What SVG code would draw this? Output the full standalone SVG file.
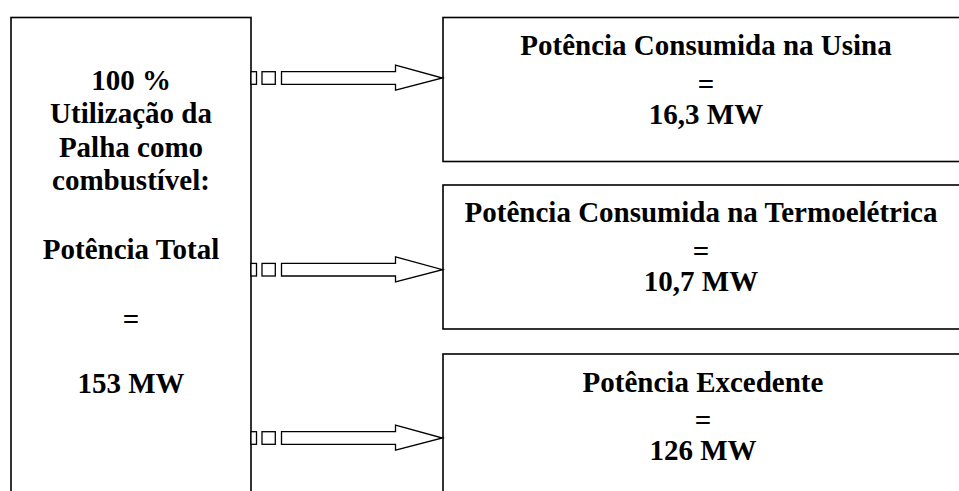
<svg xmlns="http://www.w3.org/2000/svg" width="959" height="491" viewBox="0 0 959 491">
<style>
.box{fill:#fff;stroke:#000;stroke-width:1.6}
.arr{fill:#fff;stroke:#000;stroke-width:1.3;stroke-linejoin:miter}
text{font-family:"Liberation Serif","Times New Roman",serif;font-weight:bold;font-size:29px;fill:#000;text-anchor:middle}
</style>
<rect width="959" height="491" fill="#fff"/>
<g id="source">
<rect class="box" x="11" y="17.5" width="240" height="490"/>
<text x="131" y="90">100 %</text>
<text x="131" y="123.3">Utilização da</text>
<text x="131" y="156.7">Palha como</text>
<text x="131" y="189.5">combustível:</text>
<text x="131" y="259.3">Potência Total</text>
<text x="131" y="329">=</text>
<text x="131" y="393.3">153 MW</text>
</g>
<g id="usina">
<rect class="box" x="443" y="17.5" width="530" height="144"/>
<text x="706" y="55">Potência Consumida na Usina</text>
<text x="706" y="94">=</text>
<text x="706" y="124">16,3 MW</text>
</g>
<g id="termo">
<rect class="box" x="443" y="185" width="530" height="144"/>
<text x="701" y="222">Potência Consumida na Termoelétrica</text>
<text x="701" y="261">=</text>
<text x="701" y="291">10,7 MW</text>
</g>
<g id="excedente">
<rect class="box" x="443" y="354" width="530" height="160"/>
<text x="703" y="391.5">Potência Excedente</text>
<text x="703" y="430">=</text>
<text x="703" y="459.5">126 MW</text>
</g>
<g id="connectors">
<g transform="translate(0,78)">
<rect class="arr" x="251" y="-6.3" width="5.5" height="12.6"/>
<rect class="arr" x="262" y="-6.3" width="13.3" height="12.6"/>
<polygon class="arr" points="281.5,-6.3 395.5,-6.3 395.5,-12.8 442.5,0 395.5,12.2 395.5,6.3 281.5,6.3"/>
</g>
<g transform="translate(0,269.7)">
<rect class="arr" x="251" y="-6.3" width="5.5" height="12.6"/>
<rect class="arr" x="262" y="-6.3" width="13.3" height="12.6"/>
<polygon class="arr" points="281.5,-6.3 395.5,-6.3 395.5,-12.8 442.5,0 395.5,12.2 395.5,6.3 281.5,6.3"/>
</g>
<g transform="translate(0,438)">
<rect class="arr" x="251" y="-6.3" width="5.5" height="12.6"/>
<rect class="arr" x="262" y="-6.3" width="13.3" height="12.6"/>
<polygon class="arr" points="281.5,-6.3 395.5,-6.3 395.5,-12.8 442.5,0 395.5,12.2 395.5,6.3 281.5,6.3"/>
</g>
</g>
</svg>
